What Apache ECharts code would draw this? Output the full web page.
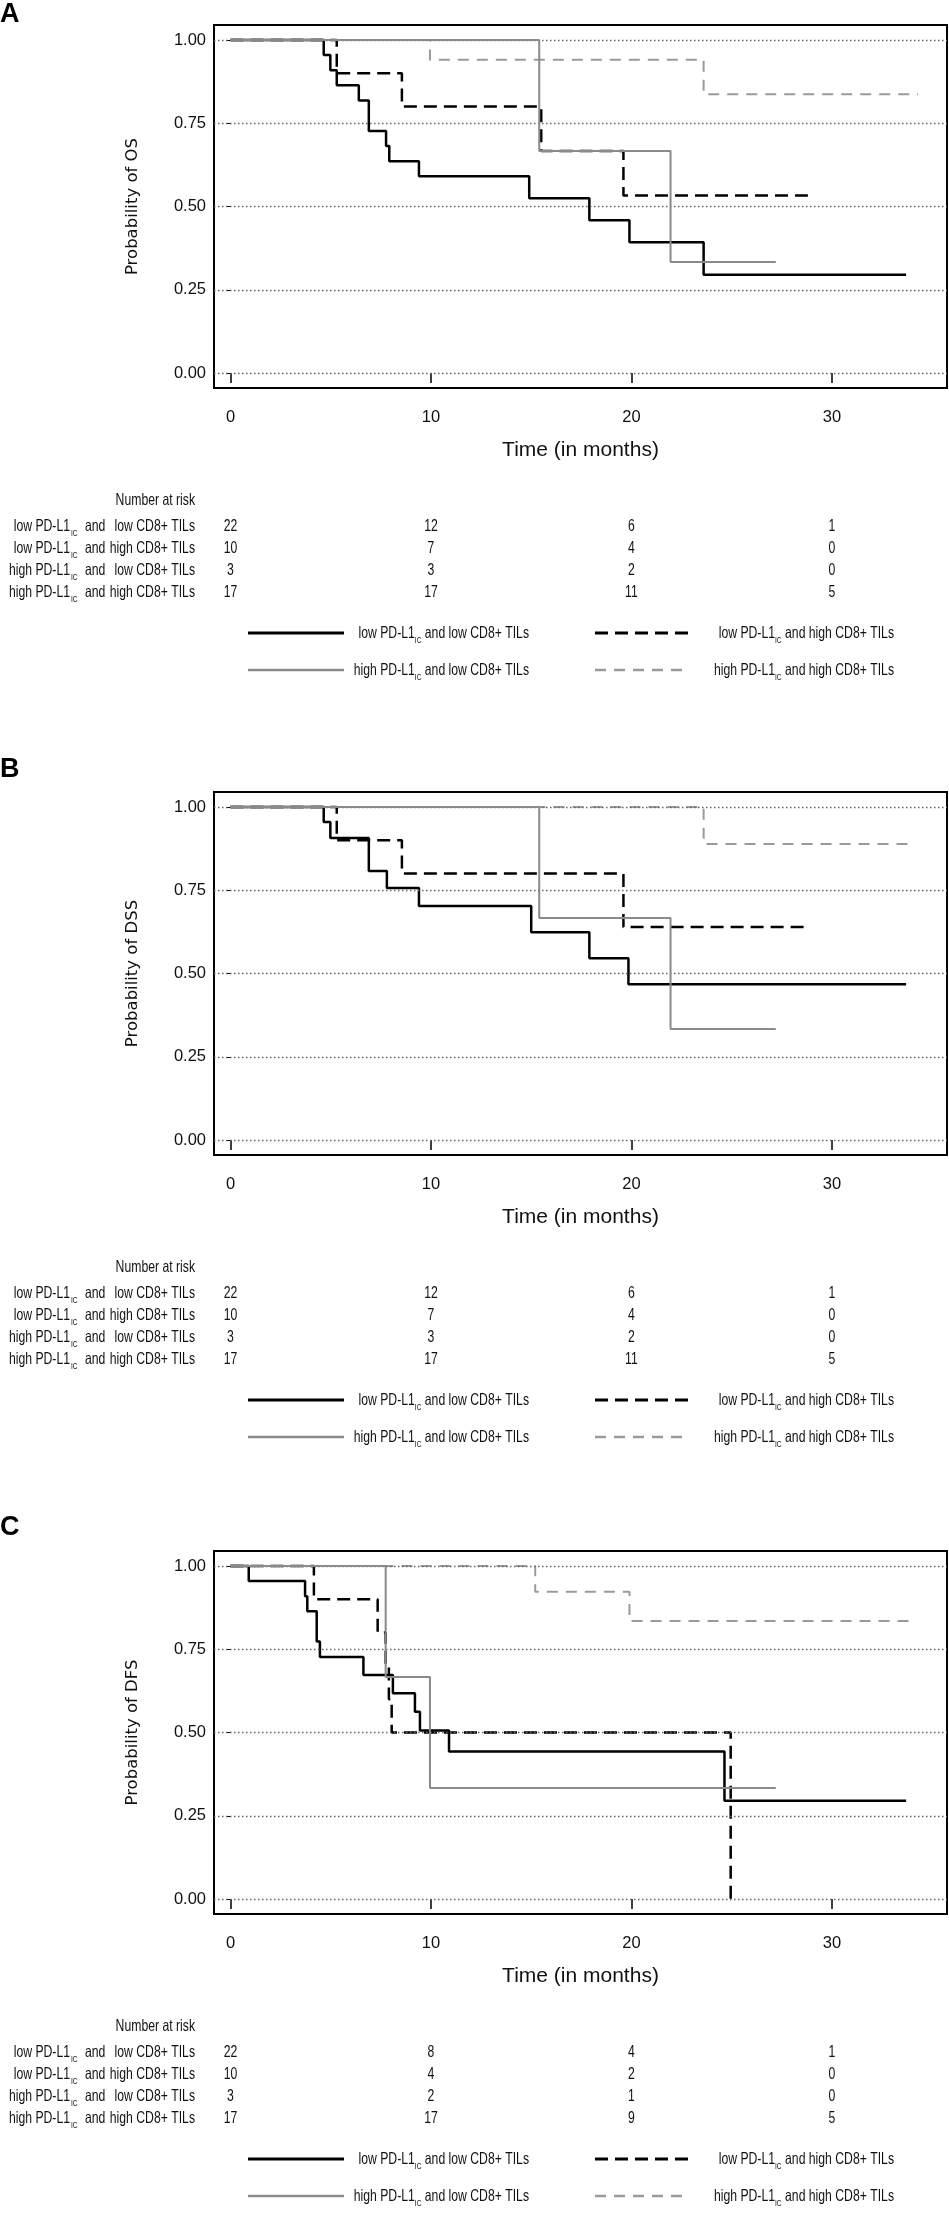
<!DOCTYPE html>
<html>
<head>
<meta charset="utf-8">
<script src="https://cdn.jsdelivr.net/npm/echarts@6/dist/echarts.min.js"></script>
<style>
  html, body { margin: 0; padding: 0; background: #fff; }
  #chart { width: 949px; height: 2217px; }
</style>
</head>
<body>
<div id="chart"></div>
<script>
// ---- data ----
const timeTicks = [0, 10, 20, 30];
const probTicks = [0, 0.25, 0.5, 0.75, 1];
const panelLetters = ['A', 'B', 'C'];
const endpoints = ['OS', 'DSS', 'DFS'];
// [PD-L1 IC level, CD8+ TILs level]
const groups = [['low', 'low'], ['low', 'high'], ['high', 'low'], ['high', 'high']];

// Kaplan-Meier steps: [months, survival]
const osLowLow = [[0, 1], [4.65, 0.955], [4.98, 0.909], [5.3, 0.864], [6.4, 0.818], [6.9, 0.727], [7.76, 0.682], [7.92, 0.636], [9.4, 0.591], [14.9, 0.525], [17.9, 0.459], [19.9, 0.393], [23.6, 0.295], [33.7, 0.295]];
const osLowHigh = [[0, 1], [5.3, 0.9], [8.55, 0.8], [15.5, 0.667], [19.6, 0.533], [28.8, 0.533]];
const osHighLow = [[0, 1], [15.4, 0.667], [21.95, 0.333], [27.2, 0.333]];
const osHighHigh = [[0, 1], [9.95, 0.941], [23.6, 0.837], [34.3, 0.837]];

const dssLowLow = [[0, 1], [4.65, 0.955], [4.98, 0.907], [6.9, 0.808], [7.8, 0.757], [9.4, 0.703], [15.0, 0.624], [17.9, 0.546], [19.85, 0.468], [33.7, 0.468]];
const dssLowHigh = [[0, 1], [5.3, 0.9], [8.55, 0.8], [19.6, 0.64], [28.8, 0.64]];
const dssHighLow = [[0, 1], [15.4, 0.667], [21.95, 0.333], [27.2, 0.333]];
const dssHighHigh = [[0, 1], [23.6, 0.889], [34.0, 0.889]];

const dfsLowLow = [[0, 1], [0.91, 0.955], [3.72, 0.909], [3.83, 0.864], [4.3, 0.773], [4.46, 0.727], [6.63, 0.673], [8.1, 0.618], [9.2, 0.562], [9.45, 0.506], [10.9, 0.443], [24.64, 0.295], [33.7, 0.295]];
const dfsLowHigh = [[0, 1], [4.16, 0.9], [7.34, 0.8], [7.74, 0.7], [7.9, 0.6], [8.04, 0.5], [24.95, 0]];
const dfsHighLow = [[0, 1], [7.74, 0.667], [9.95, 0.333], [27.2, 0.333]];
const dfsHighHigh = [[0, 1], [15.2, 0.923], [19.9, 0.835], [34.1, 0.835]];

// number at risk at timeTicks, rows in groups order
const riskOS = [[22, 12, 6, 1], [10, 7, 4, 0], [3, 3, 2, 0], [17, 17, 11, 5]];
const riskDSS = [[22, 12, 6, 1], [10, 7, 4, 0], [3, 3, 2, 0], [17, 17, 11, 5]];
const riskDFS = [[22, 8, 4, 1], [10, 4, 2, 0], [3, 2, 1, 0], [17, 17, 9, 5]];

const curves = [
  [osLowLow, osLowHigh, osHighLow, osHighHigh],
  [dssLowLow, dssLowHigh, dssHighLow, dssHighHigh],
  [dfsLowLow, dfsLowHigh, dfsHighLow, dfsHighHigh]
];
const risks = [riskOS, riskDSS, riskDFS];

// ---- look ----
const SANS = '"Liberation Sans", Arial, sans-serif';
const INK = '#111';
const SMALL = 16.5;      // table / legend text, squeezed sideways like the condensed original
const SQUEEZE = 0.74;
const lineStyles = [
  { color: '#000', width: 2.5, type: 'solid' },
  { color: '#000', width: 2.5, type: [13, 7] },
  { color: '#8a8a8a', width: 2, type: 'solid' },
  { color: '#9a9a9a', width: 2, type: [11, 8] }
];
const seriesZ = [3, 3, 5, 4];
const panelOff = [0, 767, 1526];
const letterY = [15, 770, 1528];
const X_MIN = -0.823, X_MAX = 35.74;

function smallText(x, y, text, align, size) {
  return { type: 'text', x: x, y: y, scaleX: SQUEEZE,
    style: { text: text, fontFamily: SANS, fontSize: size || SMALL, fill: INK,
      align: align, verticalAlign: 'middle' } };
}

const grid = [], xAxis = [], yAxis = [], series = [], graphic = [];

panelLetters.forEach(function (letter, p) {
  const off = panelOff[p];
  const g = p * 2;

  // survival plot
  grid.push({ left: 214, top: 25 + off, width: 733, height: 363, show: true,
    borderColor: '#000', borderWidth: 2, outerBoundsMode: 'none' });
  // number at risk table
  grid.push({ left: 214, top: 515.5 + off, width: 733, height: 88, outerBoundsMode: 'none' });

  xAxis.push({
    gridIndex: g, type: 'value', min: X_MIN, max: X_MAX,
    axisLine: { show: false },
    axisTick: { show: true, customValues: timeTicks, length: 10, lineStyle: { color: '#000', width: 1.5 } },
    axisLabel: { customValues: timeTicks, margin: 21, fontFamily: SANS, fontSize: 16.5, color: INK },
    splitLine: { show: false },
    name: 'Time (in months)', nameLocation: 'middle', nameGap: 52,
    nameTextStyle: { fontFamily: SANS, fontSize: 21, color: INK }
  });
  xAxis.push({ gridIndex: g + 1, type: 'value', min: X_MIN, max: X_MAX, show: false });

  yAxis.push({
    gridIndex: g, type: 'value', min: -0.045, max: 1.045,
    axisLine: { show: false },
    axisTick: { show: true, customValues: probTicks, length: 4, lineStyle: { color: '#000', width: 1 } },
    axisLabel: { customValues: probTicks, margin: 8, fontFamily: SANS, fontSize: 16.5, color: INK,
      formatter: function (v) { return v.toFixed(2); } },
    splitLine: { show: false },
    name: 'Probability of ' + endpoints[p], nameLocation: 'middle', nameGap: 73,
    nameTextStyle: { fontFamily: '"DejaVu Sans", sans-serif', fontSize: 16.5, color: INK }
  });
  yAxis.push({
    gridIndex: g + 1, type: 'category', inverse: true,
    data: groups.map(function (gr) { return gr.join('/'); }),
    axisLine: { show: false }, axisTick: { show: false }, splitLine: { show: false },
    axisLabel: { show: false }
  });

  // dotted reference lines
  series.push({
    type: 'line', xAxisIndex: g, yAxisIndex: g, data: [], z: 1, silent: true,
    markLine: {
      silent: true, symbol: 'none', label: { show: false },
      lineStyle: { color: '#666', width: 1.3, type: [1.5, 2.5] },
      emphasis: { disabled: true },
      data: probTicks.map(function (v) { return { yAxis: v }; })
    }
  });

  curves[p].forEach(function (pts, k) {
    series.push({
      type: 'line', xAxisIndex: g, yAxisIndex: g, step: 'end',
      data: pts, showSymbol: false, symbol: 'none', z: seriesZ[k], silent: true,
      lineStyle: lineStyles[k]
    });
  });

  // number at risk values placed on the table axes
  const riskData = [];
  risks[p].forEach(function (row, r) {
    row.forEach(function (n, c) { riskData.push([timeTicks[c], r, n]); });
  });
  series.push({
    type: 'custom', xAxisIndex: g + 1, yAxisIndex: g + 1, data: riskData, silent: true,
    encode: { x: 0, y: 1 },
    renderItem: function (params, api) {
      const pt = api.coord([api.value(0), api.value(1)]);
      return smallText(pt[0], pt[1], String(api.value(2)), 'center');
    }
  });

  // panel letter and table header
  graphic.push({ type: 'text', left: 0, top: letterY[p] - 14,
    style: { text: letter, font: 'bold 27px "Liberation Sans", Arial, sans-serif', fill: '#000' } });
  graphic.push(smallText(195, 500 + off, 'Number at risk', 'right'));

  // row labels of the table
  groups.forEach(function (gr, r) {
    const y = 526.5 + r * 22 + off;
    graphic.push(smallText(70, y, gr[0] + ' PD-L1', 'right'));
    graphic.push(smallText(71, y + 7, 'IC', 'left', 9));
    graphic.push(smallText(85, y, 'and', 'left'));
    graphic.push(smallText(195, y, gr[1] + ' CD8+ TILs', 'right'));
  });

  // legend
  const colX = [[248, 344, 529], [595, 690, 894]];
  const rowY = [633 + off, 670 + off];
  const legendRich = {
    m: { fontFamily: SANS, fontSize: SMALL, fill: INK },
    s: { fontFamily: SANS, fontSize: 9, fill: INK, padding: [15, 0, 0, 0] }
  };
  [0, 1, 2, 3].forEach(function (k) {
    const cx = colX[k % 2], y = rowY[Math.floor(k / 2)];
    const ls = lineStyles[k];
    graphic.push({ type: 'line', shape: { x1: cx[0], y1: y, x2: cx[1], y2: y },
      style: { stroke: ls.color, lineWidth: ls.width + 0.5, lineDash: ls.type === 'solid' ? null : ls.type } });
    graphic.push({ type: 'text', x: cx[2], y: y, scaleX: SQUEEZE,
      style: {
        text: '{m|' + groups[k][0] + ' PD-L1}{s|IC}{m| and ' + groups[k][1] + ' CD8+ TILs}',
        rich: legendRich, align: 'right', verticalAlign: 'middle'
      } });
  });
});

const chart = echarts.init(document.getElementById('chart'), null, { renderer: 'canvas' });
chart.setOption({
  backgroundColor: '#fff',
  animation: false,
  grid: grid,
  xAxis: xAxis,
  yAxis: yAxis,
  series: series,
  graphic: graphic
});
</script>
</body>
</html>
